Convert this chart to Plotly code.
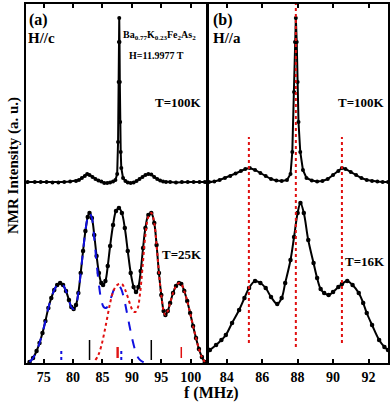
import plotly.graph_objects as go

W, H = 390, 402

# ---------------- data (heights in arbitrary units) ----------------
# (a) H//c, T=100K  (relative to its own baseline)
fa_100 = [72.3, 73.5, 74.5, 75.5, 76.5, 77.5, 78.5, 79.5, 80.5, 81.0, 81.5, 82.0, 82.4, 82.8,
          83.3, 83.8, 84.3, 84.8, 85.3, 85.8, 86.3, 86.8, 87.2, 87.5, 87.65, 87.75, 87.8, 87.85,
          87.9, 87.95, 88.0, 88.1, 88.2, 88.5, 88.9, 89.3, 89.8, 90.3, 90.8, 91.3, 91.8, 92.3,
          92.8, 93.3, 93.8, 94.3, 94.8, 95.3, 95.8, 96.5, 97.5, 98.5, 99.5, 100.5, 101.5, 102.4]
ia_100 = [0, 0, 0, 0, -0.5, -0.5, 0, 0.5, 1, 2, 4, 6, 8, 7,
          5, 3, 1.5, 0.5, -1, -1, -0.5, 0.5, 2, 8, 40, 100, 140, 164,
          140, 100, 60, 30, 14, 4, 1, -0.5, -1, -0.5, 1, 3, 5, 7,
          8, 7.5, 5, 3, 1.5, 0.5, 0, 0, -0.5, 0, 0, 0, 0, 0]

# (a) H//c, T=25K  data + total fit
fa_25 = [72.6, 73.2, 73.8, 74.3, 74.8, 75.3, 75.8, 76.3, 76.8, 77.3, 77.8, 78.3, 78.8, 79.3,
         79.7, 80.1, 80.5, 80.9, 81.3, 81.7, 82.1, 82.5, 82.8, 83.2, 83.6, 84.0, 84.4, 84.8,
         85.1, 85.5, 85.9, 86.3, 86.8, 87.3, 87.8, 88.3, 88.8, 89.3, 89.8, 90.3, 90.7, 91.1,
         91.5, 91.9, 92.3, 92.8, 93.3, 93.8, 94.2, 94.6, 95.0, 95.4, 95.7, 96.1, 96.5, 97.0,
         97.5, 98.0, 98.4, 98.9, 99.4, 99.9, 100.4, 100.9, 101.4, 101.9, 102.4]
ia_25 = [1, 5, 12, 20, 30, 42, 55, 65, 73, 78, 80, 78, 72, 63,
         56, 54, 58, 70, 90, 112, 132, 146, 150, 145, 128, 107, 90, 80,
         78, 82, 97, 117, 138, 152, 155, 150, 135, 112, 90, 76, 71, 76,
         92, 115, 135, 148, 150, 140, 118, 90, 68, 52, 48, 52, 60, 70,
         77, 80, 79, 72, 62, 50, 37, 25, 14, 6, 1]

# (a) blue dashed component
fa_blue = [72.6, 73.2, 73.8, 74.3, 74.8, 75.3, 75.8, 76.3, 76.8, 77.3, 77.8, 78.3, 78.8, 79.3,
           79.7, 80.1, 80.5, 80.9, 81.3, 81.7, 82.1, 82.5, 82.8, 83.2, 83.6, 84.0, 84.4, 84.8,
           85.2, 85.6, 86.0, 86.5, 87.0, 87.6, 88.1, 88.6, 89.1, 89.6, 90.1, 90.6, 91.1, 91.6, 92.3]
ia_blue = [1, 5, 12, 20, 30, 42, 55, 65, 73, 78, 80, 78, 72, 63,
           56, 54, 58, 70, 90, 112, 132, 146, 150, 145, 125, 100, 78, 63,
           56, 55, 58, 66, 74, 78, 75, 66, 52, 37, 23, 12, 5, 2, 0]

# (a) red dotted component
fa_red = [83.8, 84.3, 84.8, 85.3, 85.8, 86.3, 86.8, 87.3, 87.8, 88.3, 88.8, 89.3, 89.8, 90.2,
          90.6, 91.0, 91.4, 91.8, 92.3, 92.8, 93.3, 93.8, 94.2, 94.6, 95.0, 95.4, 95.7, 96.1,
          96.5, 97.0, 97.5, 98.0, 98.4, 98.9, 99.4, 99.9, 100.4, 100.9, 101.4, 101.9, 102.4]
ia_red = [3, 8, 17, 30, 45, 60, 71, 77, 79, 79, 74, 66, 57, 52,
          51, 55, 70, 95, 128, 146, 150, 140, 118, 90, 68, 52, 48, 52,
          60, 70, 77, 80, 79, 72, 62, 50, 37, 25, 14, 6, 1]

# (a) stick positions
stick_black = [82.8, 93.3]
stick_blue = [78.0, 88.2]
stick_red = [87.5, 87.65, 98.4]

# (b) H//a, T=100K (relative to its own baseline)
fb_100 = [83.0, 83.3, 83.6, 83.9, 84.2, 84.5, 84.8, 85.05, 85.3, 85.6, 85.9, 86.2, 86.5, 86.8,
          87.1, 87.4, 87.6, 87.7, 87.8, 87.85, 87.9, 87.95, 88.0, 88.05, 88.15, 88.3, 88.5, 88.8,
          89.1, 89.4, 89.7, 90.0, 90.3, 90.5, 90.7, 91.0, 91.3, 91.6, 91.9, 92.2, 92.5, 92.8, 93.1]
ib_100 = [0, 0.5, 2, 4, 6, 8.5, 11, 13, 14, 12, 9, 6, 3, 1.5,
          1, 2, 8, 30, 90, 140, 164, 140, 100, 60, 30, 12, 4, 1.5,
          0.5, 1, 3, 7, 11, 14, 13, 10, 7, 4, 2, 1, 0.5, 0, 0]

# (b) H//a, T=16K
fb_16 = [83.05, 83.4, 83.7, 83.95, 84.3, 84.7, 85.0, 85.26, 85.6, 85.9, 86.2, 86.5, 86.85, 87.1,
         87.3, 87.6, 87.8, 88.0, 88.16, 88.35, 88.6, 88.9, 89.1, 89.3, 89.5, 89.75, 90.0, 90.3,
         90.5, 90.8, 91.1, 91.45, 91.7, 91.9, 92.2, 92.6, 92.9, 93.1]
ib_16 = [13, 18, 23, 28, 40, 53, 65, 75, 82, 80, 75, 66, 59, 65,
         80, 103, 126, 150, 160, 150, 123, 100, 85, 74, 70, 68, 71, 76,
         79, 82, 78, 70, 60, 50, 38, 23, 16, 13]

# (b) guide lines
guide_b = [85.25, 87.9, 90.5]

OFFSET = 181          # vertical offset of the high-temperature spectra
YMAX = 359

# ---------------- figure ----------------
def px(x):
    return x / W

def py(y):
    return 1 - y / H

fig = go.Figure()
FONT = "Liberation Serif, Times New Roman, Times, serif"

def add_trace(x, y, xa, ya, color="black", dash="solid", width=2, mode="lines", shape="linear", msize=4):
    fig.add_trace(go.Scatter(x=x, y=y, xaxis=xa, yaxis=ya, mode=mode,
                             line=dict(color=color, width=width, dash=dash, shape=shape),
                             marker=dict(color="black", size=msize),
                             showlegend=False, hoverinfo="skip"))

# panel (a)
add_trace(fa_100, [v + OFFSET for v in ia_100], "x", "y", mode="lines+markers", width=2, msize=4)
add_trace(fa_25, ia_25, "x", "y", mode="lines+markers", shape="spline", width=2, msize=4.5)
add_trace(fa_blue, ia_blue, "x", "y", color="#1010e0", dash="dash", shape="spline", width=2)
add_trace(fa_red, ia_red, "x", "y", color="#e01010", dash="dot", shape="spline", width=2)

def sticks(pos, y0, y1, color, dash, xa="x", ya="y", width=1.5):
    xs, ys = [], []
    for p in pos:
        xs += [p, p, None]
        ys += [y0, y1, None]
    add_trace(xs, ys, xa, ya, color=color, dash=dash, width=width)

sticks(stick_black, 3, 23, "black", "solid")
sticks(stick_blue, 3, 15, "#1010e0", "dot", width=2)
sticks(stick_red, 5, 16, "#e01010", "solid", width=1.5)

# panel (b)
add_trace(fb_100, [v + OFFSET for v in ib_100], "x2", "y2", mode="lines+markers", width=2, msize=4)
add_trace(fb_16, ib_16, "x2", "y2", mode="lines+markers", shape="spline", width=2, msize=4.5)
for g in guide_b:
    top = YMAX if abs(g - 87.9) < 0.2 else 226
    bot = 16 if abs(g - 87.9) < 0.2 else 20
    add_trace([g, g], [bot, top], "x2", "y2", color="#e01010", dash="dot", width=2)

tickfont = dict(family=FONT, size=14, color="black")
common_x = dict(showline=True, linewidth=2, linecolor="black", mirror="ticks",
                ticks="inside", ticklen=4, tickwidth=1.5, tickcolor="black",
                showgrid=False, zeroline=False, tickfont=tickfont)
common_y = dict(showline=True, linewidth=2, linecolor="black", mirror="ticks",
                ticks="inside", ticklen=3, tickwidth=1.5, tickcolor="black",
                showgrid=False, zeroline=False, showticklabels=False,
                range=[0, YMAX], domain=[py(363), py(4)], tickvals=[OFFSET])

fig.update_layout(
    width=W, height=H, margin=dict(l=0, r=0, t=0, b=0),
    paper_bgcolor="white", plot_bgcolor="white",
    font=dict(family=FONT, color="black"),
    xaxis=dict(common_x, domain=[px(26), px(206)], range=[72, 102.6],
               tickvals=[75, 80, 85, 90, 95, 100],
               ticktext=["<b>%d</b>" % v for v in [75, 80, 85, 90, 95, 100]], anchor="y"),
    yaxis=dict(common_y, anchor="x"),
    xaxis2=dict(common_x, domain=[px(209), px(388)], range=[83, 93.1],
                tickvals=[84, 86, 88, 90, 92],
                ticktext=["<b>%d</b>" % v for v in [84, 86, 88, 90, 92]], anchor="y2"),
    yaxis2=dict(common_y, anchor="x2"),
)

def ann(text, x, y, size, xanchor="left", yanchor="top", angle=0):
    fig.add_annotation(text="<b>" + text + "</b>", x=px(x), y=py(y), xref="paper", yref="paper",
                       xanchor=xanchor, yanchor=yanchor, showarrow=False, textangle=angle,
                       font=dict(family=FONT, size=size, color="black"))

ann("(a)", 27, 9, 16)
ann("H//c", 26, 28, 15)
ann("Ba<sub>0.77</sub>K<sub>0.23</sub>Fe<sub>2</sub>As<sub>2</sub>", 121, 27, 10)
ann("H=11.9977 T", 127, 48, 10)
ann("T=100K", 204, 93, 13, xanchor="right")
ann("T=25K", 204, 245, 13, xanchor="right")
ann("(b)", 211, 9, 16)
ann("H//a", 211, 28, 15)
ann("T=100K", 387, 93, 13, xanchor="right")
ann("T=16K", 387, 252, 13, xanchor="right")
ann("NMR Intensity (a. u.)", 13, 166, 15, xanchor="center", yanchor="middle", angle=-90)
ann("f (MHz)", 212, 393, 16, xanchor="center", yanchor="middle")

fig.write_html("out.html", config={"displayModeBar": False})

# remove the default page margin so the figure sits at the window's corner
with open("out.html", "r", encoding="utf-8") as f:
    html = f.read()
html = html.replace("<head>", "<head><style>html,body{margin:0;padding:0;overflow:hidden;}</style>", 1)
with open("out.html", "w", encoding="utf-8") as f:
    f.write(html)
